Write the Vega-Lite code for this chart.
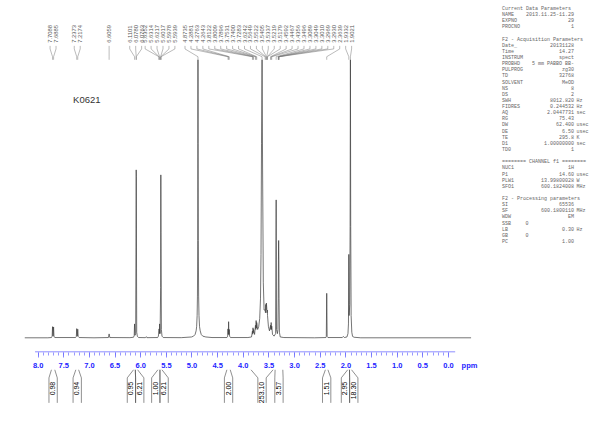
{
 "$schema": "https://vega.github.io/schema/vega-lite/v6.json",
 "padding": 0,
 "spacing": 0,
 "background": "white",
 "config": {"view": {"stroke": null}, "axis": {"grid": false}},
 "datasets": {
  "spectrum": [
   {"ppm":8.25,"i":0},{"ppm":7.8,"i":0},{"ppm":7.73,"i":0.1},{"ppm":7.716,"i":0.6},{"ppm":7.7088,"i":4.0},{"ppm":7.701,"i":0.7},{"ppm":7.697,"i":0.6},{"ppm":7.6885,"i":3.9},{"ppm":7.681,"i":0.6},{"ppm":7.665,"i":0.1},
   {"ppm":7.26,"i":0.1},{"ppm":7.245,"i":0.5},{"ppm":7.2373,"i":3.3},{"ppm":7.229,"i":0.6},{"ppm":7.225,"i":0.6},{"ppm":7.2174,"i":3.1},{"ppm":7.209,"i":0.5},{"ppm":7.19,"i":0.1},
   {"ppm":6.9,"i":0},{"ppm":6.62,"i":0.1},{"ppm":6.6059,"i":1.4},{"ppm":6.592,"i":0.1},
   {"ppm":6.2,"i":0.05},{"ppm":6.13,"i":0.2},{"ppm":6.117,"i":0.8},{"ppm":6.1101,"i":5.0},{"ppm":6.102,"i":0.9},{"ppm":6.088,"i":1.5},{"ppm":6.078,"i":60.4},{"ppm":6.0763,"i":58},{"ppm":6.068,"i":2},{"ppm":6.055,"i":0.5},{"ppm":6.03,"i":0.1},
   {"ppm":5.9,"i":0.05},{"ppm":5.88,"i":0.4},{"ppm":5.87,"i":0.05},
   {"ppm":5.66,"i":0.1},{"ppm":5.645,"i":0.6},{"ppm":5.6352,"i":2.5},{"ppm":5.6314,"i":3.2},{"ppm":5.626,"i":1.5},{"ppm":5.6217,"i":5},{"ppm":5.612,"i":1.5},{"ppm":5.6017,"i":18},{"ppm":5.5978,"i":58.6},{"ppm":5.5939,"i":38},{"ppm":5.587,"i":3},{"ppm":5.575,"i":0.6},{"ppm":5.55,"i":0.1},
   {"ppm":5.2,"i":0.05},{"ppm":5.0,"i":0.3},{"ppm":4.96,"i":0.6},{"ppm":4.93,"i":1.2},{"ppm":4.91,"i":2.5},{"ppm":4.9,"i":4},{"ppm":4.89,"i":8},{"ppm":4.884,"i":15},{"ppm":4.879,"i":35},{"ppm":4.876,"i":70},{"ppm":4.8735,"i":100},{"ppm":4.871,"i":70},{"ppm":4.867,"i":35},{"ppm":4.861,"i":15},{"ppm":4.854,"i":8},{"ppm":4.843,"i":4},{"ppm":4.83,"i":2.5},{"ppm":4.81,"i":1.2},{"ppm":4.78,"i":0.6},{"ppm":4.72,"i":0.3},{"ppm":4.6,"i":0.1},
   {"ppm":4.31,"i":0.1},{"ppm":4.295,"i":0.6},{"ppm":4.2881,"i":3.2},{"ppm":4.282,"i":1.2},{"ppm":4.2763,"i":5.8},{"ppm":4.27,"i":1.2},{"ppm":4.2643,"i":3.0},{"ppm":4.257,"i":0.6},{"ppm":4.24,"i":0.1},
   {"ppm":3.9,"i":0.1},{"ppm":3.83,"i":0.3},{"ppm":3.8122,"i":2.4},{"ppm":3.806,"i":1.3},{"ppm":3.8009,"i":3.6},{"ppm":3.795,"i":1.8},{"ppm":3.7896,"i":3.0},{"ppm":3.77,"i":1.2},{"ppm":3.7531,"i":4.5},{"ppm":3.746,"i":3},{"ppm":3.74,"i":6.2},{"ppm":3.734,"i":3.5},{"ppm":3.7283,"i":5.5},{"ppm":3.71,"i":3},{"ppm":3.69,"i":4},{"ppm":3.67,"i":7},{"ppm":3.655,"i":14},{"ppm":3.645,"i":30},{"ppm":3.635,"i":70},{"ppm":3.6242,"i":100},{"ppm":3.614,"i":60},{"ppm":3.6,"i":20},{"ppm":3.585,"i":10},{"ppm":3.5649,"i":10},{"ppm":3.558,"i":9},{"ppm":3.5522,"i":12},{"ppm":3.547,"i":10},{"ppm":3.5405,"i":12.5},{"ppm":3.5337,"i":11},{"ppm":3.528,"i":9},{"ppm":3.5219,"i":10},{"ppm":3.5179,"i":8},{"ppm":3.5,"i":4},{"ppm":3.48,"i":2.5},{"ppm":3.4592,"i":4.5},{"ppm":3.453,"i":3},{"ppm":3.4467,"i":5.5},{"ppm":3.441,"i":3},{"ppm":3.4356,"i":4.2},{"ppm":3.42,"i":1.2},{"ppm":3.39,"i":0.6},{"ppm":3.36,"i":1.5},{"ppm":3.3496,"i":49.6},{"ppm":3.343,"i":3},{"ppm":3.325,"i":1.5},{"ppm":3.315,"i":3},{"ppm":3.3089,"i":14},{"ppm":3.3049,"i":28},{"ppm":3.301,"i":35},{"ppm":3.2969,"i":28},{"ppm":3.293,"i":14},{"ppm":3.286,"i":2},{"ppm":3.27,"i":0.3},{"ppm":3.2,"i":0.1},
   {"ppm":2.6,"i":0},{"ppm":2.38,"i":0.1},{"ppm":2.372,"i":0.5},{"ppm":2.3639,"i":16},{"ppm":2.356,"i":0.5},{"ppm":2.34,"i":0.1},
   {"ppm":2.06,"i":0.1},{"ppm":2.04,"i":0.5},{"ppm":2.02,"i":0.1},{"ppm":1.97,"i":0.3},{"ppm":1.95,"i":1.5},{"ppm":1.94,"i":5},{"ppm":1.9332,"i":30},{"ppm":1.927,"i":8},{"ppm":1.915,"i":12},{"ppm":1.908,"i":40},{"ppm":1.9021,"i":100},{"ppm":1.896,"i":40},{"ppm":1.888,"i":8},{"ppm":1.875,"i":2},{"ppm":1.86,"i":0.5},{"ppm":1.83,"i":0.2},{"ppm":1.7,"i":0},{"ppm":-0.45,"i":0}
  ],
  "peaks": [
   {"ppm":7.7088,"label":"7.7088","grp":"A"},{"ppm":7.6885,"label":"7.6885","grp":"A"},
   {"ppm":7.2373,"label":"7.2373","grp":"B"},{"ppm":7.2174,"label":"7.2174","grp":"B"},
   {"ppm":6.6059,"label":"6.6059","grp":"C"},
   {"ppm":6.1101,"label":"6.1101","grp":"D"},{"ppm":6.078,"label":"6.0780","grp":"D"},{"ppm":6.0763,"label":"6.0763","grp":"D"},
   {"ppm":5.6352,"label":"5.6352","grp":"E"},{"ppm":5.6314,"label":"5.6314","grp":"E"},{"ppm":5.6217,"label":"5.6217","grp":"E"},{"ppm":5.6017,"label":"5.6017","grp":"E"},{"ppm":5.5978,"label":"5.5978","grp":"E"},{"ppm":5.5939,"label":"5.5939","grp":"E"},
   {"ppm":4.8735,"label":"4.8735","grp":"F"},{"ppm":4.2881,"label":"4.2881","grp":"F"},{"ppm":4.2763,"label":"4.2763","grp":"F"},{"ppm":4.2643,"label":"4.2643","grp":"F"},
   {"ppm":3.8122,"label":"3.8122","grp":"F"},{"ppm":3.8009,"label":"3.8009","grp":"F"},{"ppm":3.7896,"label":"3.7896","grp":"F"},{"ppm":3.7531,"label":"3.7531","grp":"F"},{"ppm":3.74,"label":"3.7400","grp":"F"},{"ppm":3.7283,"label":"3.7283","grp":"F"},
   {"ppm":3.6242,"label":"3.6242","grp":"F"},{"ppm":3.5649,"label":"3.5649","grp":"F"},{"ppm":3.5522,"label":"3.5522","grp":"F"},{"ppm":3.5405,"label":"3.5405","grp":"F"},{"ppm":3.5337,"label":"3.5337","grp":"F"},{"ppm":3.5219,"label":"3.5219","grp":"F"},{"ppm":3.5179,"label":"3.5179","grp":"F"},
   {"ppm":3.4592,"label":"3.4592","grp":"F"},{"ppm":3.4467,"label":"3.4467","grp":"F"},{"ppm":3.4356,"label":"3.4356","grp":"F"},
   {"ppm":3.3496,"label":"3.3496","grp":"F"},{"ppm":3.3089,"label":"3.3089","grp":"F"},{"ppm":3.3049,"label":"3.3049","grp":"F"},{"ppm":3.301,"label":"3.3010","grp":"F"},{"ppm":3.2969,"label":"3.2969","grp":"F"},{"ppm":3.293,"label":"3.2930","grp":"F"},
   {"ppm":2.3639,"label":"2.3639","grp":"F"},{"ppm":1.9332,"label":"1.9332","grp":"F"},{"ppm":1.9021,"label":"1.9021","grp":"F"}
  ],
  "integrals": [
   {"from":7.73,"to":7.665,"value":"0.98","grp":"a"},
   {"from":7.255,"to":7.2,"value":"0.94","grp":"b"},
   {"from":6.13,"to":6.095,"value":"0.95","grp":"c"},
   {"from":6.095,"to":6.05,"value":"6.21","grp":"c"},
   {"from":5.655,"to":5.615,"value":"1.00","grp":"d"},
   {"from":5.615,"to":5.575,"value":"6.21","grp":"d"},
   {"from":4.31,"to":4.245,"value":"2.00","grp":"e"},
   {"from":3.84,"to":3.41,"value":"253.10","grp":"f"},
   {"from":3.37,"to":3.22,"value":"3.57","grp":"g"},
   {"from":2.39,"to":2.34,"value":"1.51","grp":"h"},
   {"from":1.955,"to":1.92,"value":"2.95","grp":"i"},
   {"from":1.92,"to":1.88,"value":"18.30","grp":"i"}
  ],
  "params": [
   {"line":1,"name":"Current Data Parameters"},
   {"line":2,"name":"NAME","value":"2013.11.25-11.29"},
   {"line":3,"name":"EXPNO","value":"29"},
   {"line":4,"name":"PROCNO","value":"1"},
   {"line":6,"name":"F2 - Acquisition Parameters"},
   {"line":7,"name":"Date_","value":"20131128"},
   {"line":8,"name":"Time","value":"14.27"},
   {"line":9,"name":"INSTRUM","value":"spect"},
   {"line":10,"name":"PROBHD","value":"5 mm PABBO BB-"},
   {"line":11,"name":"PULPROG","value":"zg30"},
   {"line":12,"name":"TD","value":"32768"},
   {"line":13,"name":"SOLVENT","value":"MeOD"},
   {"line":14,"name":"NS","value":"8"},
   {"line":15,"name":"DS","value":"2"},
   {"line":16,"name":"SWH","value":"8012.820","unit":"Hz"},
   {"line":17,"name":"FIDRES","value":"0.244532","unit":"Hz"},
   {"line":18,"name":"AQ","value":"2.0447731","unit":"sec"},
   {"line":19,"name":"RG","value":"75.43"},
   {"line":20,"name":"DW","value":"62.400","unit":"usec"},
   {"line":21,"name":"DE","value":"6.50","unit":"usec"},
   {"line":22,"name":"TE","value":"295.8","unit":"K"},
   {"line":23,"name":"D1","value":"1.00000000","unit":"sec"},
   {"line":24,"name":"TD0","value":"1"},
   {"line":26,"name":"======== CHANNEL f1 ========"},
   {"line":27,"name":"NUC1","value":"1H"},
   {"line":28,"name":"P1","value":"14.60","unit":"usec"},
   {"line":29,"name":"PLW1","value":"13.99800028","unit":"W"},
   {"line":30,"name":"SFO1","value":"600.1824008","unit":"MHz"},
   {"line":32,"name":"F2 - Processing parameters"},
   {"line":33,"name":"SI","value":"65536"},
   {"line":34,"name":"SF","value":"600.1800110","unit":"MHz"},
   {"line":35,"name":"WDW","value":"EM"},
   {"line":36,"name":"SSB","short":"0"},
   {"line":37,"name":"LB","value":"0.30","unit":"Hz"},
   {"line":38,"name":"GB","short":"0"},
   {"line":39,"name":"PC","value":"1.00"}
  ],
  "sample": [{"name":"K0621"}]
 },
 "hconcat": [
  {
   "width": 498,
   "height": 424,
   "resolve": {"axis": {"x": "independent"}},
   "layer": [
    {
     "data": {"name": "spectrum"},
     "mark": {"type": "line", "stroke": "#3a3a3a", "strokeWidth": 0.7},
     "encoding": {
      "x": {"field": "ppm", "type": "quantitative", "scale": {"domain": [8.733, -0.975], "nice": false, "zero": false},
       "axis": {"orient": "bottom", "offset": -72, "values": [8,7.5,7,6.5,6,5.5,5,4.5,4,3.5,3,2.5,2,1.5,1,0.5,0], "format": ".1f", "domain": false, "tickSize": 5, "tickColor": "#6b6bff", "tickWidth": 0.8, "labelColor": "#2323ff", "labelFont": "Liberation Sans", "labelFontSize": 7.5, "labelFontWeight": "bold", "labelPadding": 4, "labelFlush": false, "labelOverlap": false, "title": "ppm", "titleColor": "#2323ff", "titleFont": "Liberation Sans", "titleFontSize": 7.5, "titleFontWeight": "bold", "titleAngle": 0, "titleX": 469, "titleY": 13, "titleAlign": "center", "titleBaseline": "middle"}},
      "y": {"field": "i", "type": "quantitative", "scale": {"domain": [-31, 121.5], "nice": false, "zero": false}, "axis": null}
     }
    },
    {
     "data": {"values": [{}]},
     "mark": {"type": "rule", "stroke": "#7070ff", "strokeWidth": 0.8},
     "encoding": {
      "x": {"datum": 8.05, "type": "quantitative", "scale": {"domain": [8.733, -0.975], "nice": false, "zero": false},
       "axis": {"orient": "bottom", "offset": -72, "values": [8,7.9,7.8,7.7,7.6,7.5,7.4,7.3,7.2,7.1,7,6.9,6.8,6.7,6.6,6.5,6.4,6.3,6.2,6.1,6,5.9,5.8,5.7,5.6,5.5,5.4,5.3,5.2,5.1,5,4.9,4.8,4.7,4.6,4.5,4.4,4.3,4.2,4.1,4,3.9,3.8,3.7,3.6,3.5,3.4,3.3,3.2,3.1,3,2.9,2.8,2.7,2.6,2.5,2.4,2.3,2.2,2.1,2,1.9,1.8,1.7,1.6,1.5,1.4,1.3,1.2,1.1,1,0.9,0.8,0.7,0.6,0.5,0.4,0.3,0.2,0.1,0], "labels": false, "domain": false, "tickSize": 3, "tickColor": "#6b6bff", "tickWidth": 0.7, "title": null}},
      "x2": {"datum": -0.14},
      "y": {"datum": -5.04, "type": "quantitative", "scale": {"domain": [-31, 121.5], "nice": false, "zero": false}, "axis": null}
     }
    },
    {
     "data": {"name": "sample"},
     "mark": {"type": "text", "font": "Liberation Sans", "fontSize": 9.5, "fill": "#333", "align": "center", "baseline": "middle"},
     "encoding": {
      "x": {"datum": 7.04, "type": "quantitative", "scale": {"domain": [8.733, -0.975], "nice": false, "zero": false}, "axis": null},
      "y": {"datum": 85.6, "type": "quantitative", "scale": {"domain": [-31, 121.5], "nice": false, "zero": false}, "axis": null},
      "text": {"field": "name"}
     }
    },
    {
     "data": {"name": "peaks"},
     "transform": [
      {"joinaggregate": [{"op": "mean", "field": "ppm", "as": "gmean"}, {"op": "count", "as": "gn"}], "groupby": ["grp"]},
      {"window": [{"op": "row_number", "as": "gr"}], "groupby": ["grp"], "sort": [{"field": "ppm", "order": "descending"}]},
      {"calculate": "datum.gmean + ((datum.gn - 1) / 2 - (datum.gr - 1)) * 0.116", "as": "lx"}
     ],
     "layer": [
      {
       "mark": {"type": "text", "angle": 270, "align": "left", "baseline": "middle", "font": "Liberation Sans", "fontSize": 5.8, "fill": "#555"},
       "encoding": {
        "x": {"field": "lx", "type": "quantitative", "scale": {"domain": [8.733, -0.975], "nice": false, "zero": false}, "axis": null},
        "y": {"datum": 106.1, "type": "quantitative", "scale": {"domain": [-31, 121.5], "nice": false, "zero": false}, "axis": null},
        "text": {"field": "label"}
       }
      },
      {
       "mark": {"type": "rule", "stroke": "#777", "strokeWidth": 0.5},
       "encoding": {
        "x": {"field": "lx", "type": "quantitative", "scale": {"domain": [8.733, -0.975], "nice": false, "zero": false}, "axis": null},
        "y": {"datum": 105.0, "type": "quantitative", "scale": {"domain": [-31, 121.5], "nice": false, "zero": false}, "axis": null},
        "y2": {"datum": 103.9}
       }
      },
      {
       "mark": {"type": "rule", "stroke": "#777", "strokeWidth": 0.5},
       "encoding": {
        "x": {"field": "lx", "type": "quantitative", "scale": {"domain": [8.733, -0.975], "nice": false, "zero": false}, "axis": null},
        "x2": {"field": "ppm"},
        "y": {"datum": 103.9, "type": "quantitative", "scale": {"domain": [-31, 121.5], "nice": false, "zero": false}, "axis": null},
        "y2": {"datum": 101.1}
       }
      },
      {
       "mark": {"type": "rule", "stroke": "#777", "strokeWidth": 0.5},
       "encoding": {
        "x": {"field": "ppm", "type": "quantitative", "scale": {"domain": [8.733, -0.975], "nice": false, "zero": false}, "axis": null},
        "y": {"datum": 101.1, "type": "quantitative", "scale": {"domain": [-31, 121.5], "nice": false, "zero": false}, "axis": null},
        "y2": {"datum": 100.0}
       }
      }
     ]
    },
    {
     "data": {"name": "integrals"},
     "transform": [
      {"joinaggregate": [{"op": "max", "field": "from", "as": "gfrom"}, {"op": "min", "field": "to", "as": "gto"}, {"op": "count", "as": "gn"}], "groupby": ["grp"]},
      {"window": [{"op": "row_number", "as": "gr"}], "groupby": ["grp"], "sort": [{"field": "from", "order": "descending"}]},
      {"calculate": "(datum.gfrom + datum.gto) / 2 + ((datum.gn - 1) / 2 - (datum.gr - 1)) * 0.162", "as": "lx"},
      {"calculate": "datum.lx + 0.081", "as": "bl"},
      {"calculate": "datum.lx - 0.081", "as": "br"}
     ],
     "layer": [
      {
       "mark": {"type": "rule", "stroke": "#444", "strokeWidth": 0.6},
       "encoding": {
        "x": {"field": "from", "type": "quantitative", "scale": {"domain": [8.733, -0.975], "nice": false, "zero": false}, "axis": null},
        "x2": {"field": "bl"},
        "y": {"datum": -11.5, "type": "quantitative", "scale": {"domain": [-31, 121.5], "nice": false, "zero": false}, "axis": null},
        "y2": {"datum": -14.4}
       }
      },
      {
       "mark": {"type": "rule", "stroke": "#444", "strokeWidth": 0.6},
       "encoding": {
        "x": {"field": "to", "type": "quantitative", "scale": {"domain": [8.733, -0.975], "nice": false, "zero": false}, "axis": null},
        "x2": {"field": "br"},
        "y": {"datum": -11.5, "type": "quantitative", "scale": {"domain": [-31, 121.5], "nice": false, "zero": false}, "axis": null},
        "y2": {"datum": -14.4}
       }
      },
      {
       "mark": {"type": "rule", "stroke": "#444", "strokeWidth": 0.6},
       "encoding": {
        "x": {"field": "bl", "type": "quantitative", "scale": {"domain": [8.733, -0.975], "nice": false, "zero": false}, "axis": null},
        "y": {"datum": -14.4, "type": "quantitative", "scale": {"domain": [-31, 121.5], "nice": false, "zero": false}, "axis": null},
        "y2": {"datum": -23.4}
       }
      },
      {
       "mark": {"type": "rule", "stroke": "#444", "strokeWidth": 0.6},
       "encoding": {
        "x": {"field": "br", "type": "quantitative", "scale": {"domain": [8.733, -0.975], "nice": false, "zero": false}, "axis": null},
        "y": {"datum": -14.4, "type": "quantitative", "scale": {"domain": [-31, 121.5], "nice": false, "zero": false}, "axis": null},
        "y2": {"datum": -23.4}
       }
      },
      {
       "mark": {"type": "text", "angle": 270, "align": "right", "baseline": "middle", "font": "Liberation Sans", "fontSize": 7, "fill": "#000"},
       "encoding": {
        "x": {"field": "lx", "type": "quantitative", "scale": {"domain": [8.733, -0.975], "nice": false, "zero": false}, "axis": null},
        "y": {"datum": -15.8, "type": "quantitative", "scale": {"domain": [-31, 121.5], "nice": false, "zero": false}, "axis": null},
        "text": {"field": "value"}
       }
      }
     ]
    }
   ]
  },
  {
   "width": 102,
   "height": 424,
   "data": {"name": "params"},
   "layer": [
    {
     "mark": {"type": "text", "align": "left", "baseline": "middle", "font": "Liberation Mono", "fontSize": 5, "fill": "#666"},
     "encoding": {
      "x": {"datum": 0.04, "type": "quantitative", "scale": {"domain": [0, 1], "nice": false, "zero": false}, "axis": null},
      "y": {"field": "line", "type": "quantitative", "scale": {"domain": [68.86, -0.305], "nice": false, "zero": false}, "axis": null},
      "text": {"field": "name"}
     }
    },
    {
     "transform": [{"filter": "datum.value"}],
     "mark": {"type": "text", "align": "right", "baseline": "middle", "font": "Liberation Mono", "fontSize": 5, "fill": "#666"},
     "encoding": {
      "x": {"datum": 0.745, "type": "quantitative", "scale": {"domain": [0, 1], "nice": false, "zero": false}, "axis": null},
      "y": {"field": "line", "type": "quantitative", "scale": {"domain": [68.86, -0.305], "nice": false, "zero": false}, "axis": null},
      "text": {"field": "value"}
     }
    },
    {
     "transform": [{"filter": "datum.unit"}],
     "mark": {"type": "text", "align": "left", "baseline": "middle", "font": "Liberation Mono", "fontSize": 5, "fill": "#666"},
     "encoding": {
      "x": {"datum": 0.77, "type": "quantitative", "scale": {"domain": [0, 1], "nice": false, "zero": false}, "axis": null},
      "y": {"field": "line", "type": "quantitative", "scale": {"domain": [68.86, -0.305], "nice": false, "zero": false}, "axis": null},
      "text": {"field": "unit"}
     }
    },
    {
     "transform": [{"filter": "datum.short"}],
     "mark": {"type": "text", "align": "right", "baseline": "middle", "font": "Liberation Mono", "fontSize": 5, "fill": "#666"},
     "encoding": {
      "x": {"datum": 0.3, "type": "quantitative", "scale": {"domain": [0, 1], "nice": false, "zero": false}, "axis": null},
      "y": {"field": "line", "type": "quantitative", "scale": {"domain": [68.86, -0.305], "nice": false, "zero": false}, "axis": null},
      "text": {"field": "short"}
     }
    }
   ]
  }
 ]
}
